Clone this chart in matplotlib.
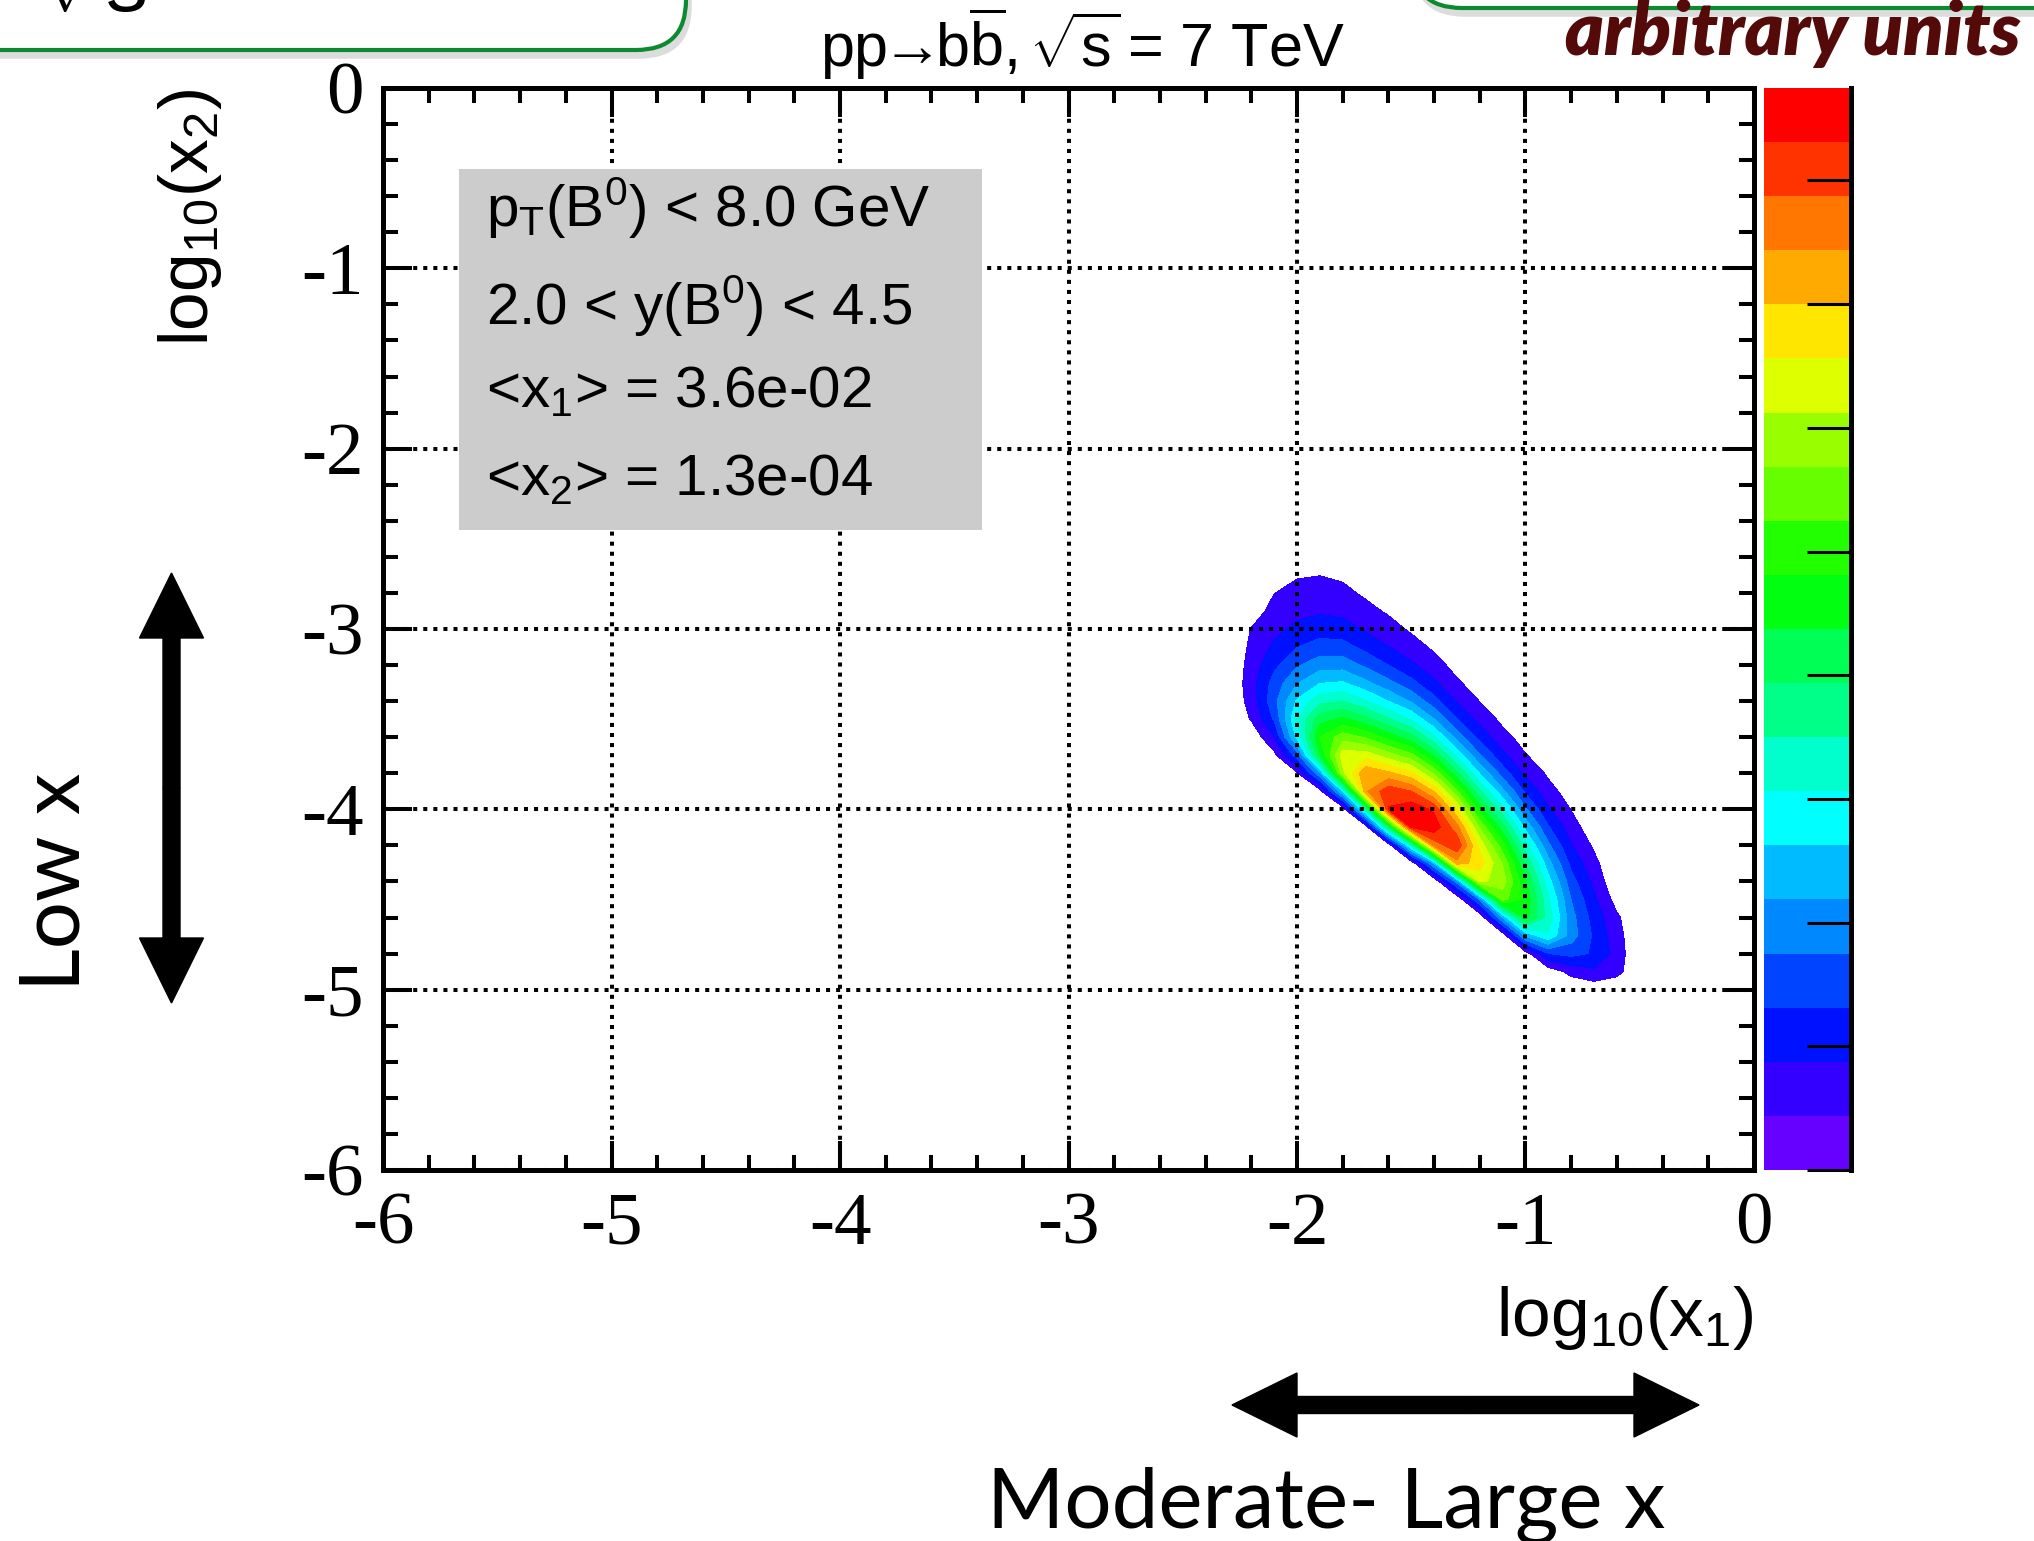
import numpy as np
import matplotlib
matplotlib.use('Agg')
import matplotlib.pyplot as plt
from matplotlib.colors import ListedColormap, BoundaryNorm
from matplotlib.cm import ScalarMappable
from matplotlib.patches import FancyBboxPatch, FancyArrow, Rectangle
from matplotlib.ticker import MultipleLocator

plt.rcParams['font.family'] = ['Liberation Sans', 'DejaVu Sans']
plt.rcParams['mathtext.fontset'] = 'custom'
plt.rcParams['mathtext.rm'] = 'Liberation Sans'
plt.rcParams['mathtext.it'] = 'Liberation Sans:italic'
plt.rcParams['mathtext.bf'] = 'Liberation Sans:bold'
plt.rcParams['axes.unicode_minus'] = False

# bin centres, log10(x1) columns and log10(x2) rows
log_x1 = [-2.3, -2.2, -2.1, -2.0, -1.9, -1.8, -1.7, -1.6, -1.5, -1.4,
          -1.3, -1.2, -1.1, -1.0, -0.9, -0.8, -0.7, -0.6, -0.5]
log_x2 = [-2.6, -2.7, -2.8, -2.9, -3.0, -3.1, -3.2, -3.3, -3.4, -3.5, -3.6, -3.7, -3.8,
          -3.9, -4.0, -4.1, -4.2, -4.3, -4.4, -4.5, -4.6, -4.7, -4.8, -4.9, -5.0, -5.1]

# density (arbitrary units, one list per log10(x1) column, rows as log_x2)
col_m23 = [0] * 26
col_m22 = [0, 0.1, 0.2, 0.5, 1.04, 1.23, 1.44, 1.6, 1.44, 1.08, 0.2] + [0] * 15
col_m21 = [0.41, 0.65, 0.98, 1.32, 1.71, 2.2, 2.76, 3.38, 3.67, 3.13, 1.96, 0.72, 0.09] + [0] * 13
col_m20 = [0.67, 0.92, 1.26, 1.70, 2.26, 2.98, 3.87, 4.94, 6.14, 7.0, 6.25, 3.49, 0.82, 0.05] + [0] * 12
col_m19 = [0.70, 0.98, 1.36, 1.87, 2.54, 3.42, 4.56, 5.97, 7.68, 9.60, 11.0, 9.95, 4.75, 0.49] + [0] * 12
col_m18 = [0.58, 0.85, 1.22, 1.74, 2.43, 3.37, 4.58, 6.12, 8.01, 10.22, 12.58, 14.5, 13.72, 6.0, 0.17] + [0] * 11
col_m17 = [0.35, 0.56, 0.85, 1.27, 1.86, 2.69, 3.80, 5.25, 7.10, 9.33, 11.90, 14.57, 16.84, 16.8, 7.68, 0.10] + [0] * 10
col_m16 = [0.1, 0.3, 0.56, 0.88, 1.35, 2.03, 2.99, 4.29, 5.99, 8.12, 10.64, 13.45, 16.24, 18.7, 19.05, 8.80, 0.09] + [0] * 9
col_m15 = [0, 0.1, 0.25, 0.52, 0.86, 1.40, 2.19, 3.32, 4.88, 6.91, 9.41, 12.28, 15.30, 18.01, 19.7, 19.1, 7.29, 0.09] + [0] * 8
col_m14 = [0, 0, 0.1, 0.25, 0.49, 0.84, 1.38, 2.20, 3.38, 5.02, 7.16, 9.81, 12.82, 15.91, 18.8, 19.6, 17.4, 5.08, 0.05] + [0] * 7
col_m13 = [0, 0, 0, 0.05, 0.15, 0.36, 0.66, 1.14, 1.90, 3.02, 4.61, 6.71, 9.28, 12.16, 15.04, 17.39, 18.8, 16.52, 4.42, 0.02] + [0] * 6
col_m12 = [0, 0, 0, 0, 0.04, 0.12, 0.29, 0.54, 0.97, 1.64, 2.65, 4.07, 5.92, 8.14, 10.56, 12.88, 14.70, 15.5, 14.27, 4.13, 0.02] + [0] * 5
col_m11 = [0] * 6 + [0.06, 0.18, 0.39, 0.75, 1.34, 2.25, 3.55, 5.25, 7.27, 9.43, 11.43, 12.91, 13.5, 12.36, 5.05, 0.23] + [0] * 4
col_m10 = [0] * 7 + [0.05, 0.15, 0.30, 0.59, 1.05, 1.78, 2.81, 4.14, 5.71, 7.39, 8.94, 10.14, 10.75, 10.39, 5.19, 0.46] + [0] * 3
col_m09 = [0] * 9 + [0.1, 0.26, 0.46, 0.83, 1.37, 2.13, 3.09, 4.20, 5.36, 6.41, 7.19, 7.58, 6.87, 2.99, 0.38] + [0] * 2
col_m08 = [0] * 11 + [0.1, 0.25, 0.51, 0.96, 1.46, 2.06, 2.73, 3.39, 3.97, 4.36, 4.5, 3.31, 1.31, 0.19] + [0]
col_m07 = [0] * 13 + [0.05, 0.15, 0.37, 0.83, 1.30, 1.75, 2.19, 2.57, 2.82, 2.89, 1.81, 0.29] + [0]
col_m06 = [0] * 18 + [0.11, 0.58, 1.18, 1.43, 1.58, 1.38, 0.03] + [0]
col_m05 = [0] * 26

columns = [col_m23, col_m22, col_m21, col_m20, col_m19, col_m18, col_m17, col_m16, col_m15, col_m14,
           col_m13, col_m12, col_m11, col_m10, col_m09, col_m08, col_m07, col_m06, col_m05]
z = np.array(columns).T

# ROOT-like 20 colour palette, bottom to top
palette = ['#6600ff', '#3300ff', '#0011ff', '#0044ff', '#0088ff', '#00bbff', '#00ffff',
           '#00ffcc', '#00ff88', '#00ff55', '#00ff11', '#22ff00', '#66ff00', '#99ff00',
           '#ddff00', '#ffe600', '#ffaa00', '#ff7700', '#ff3300', '#ff0000']
levels = np.arange(0, 21)
cbar_ticks = [0, 2.29, 4.57, 6.86, 9.15, 11.43, 13.72, 16.01, 18.3]

ticks = [-6, -5, -4, -3, -2, -1, 0]
tick_labels = ['-6', '-5', '-4', '-3', '-2', '-1', '0']

box_lines = [r'p$_{\mathrm{T}}$(B$^{0}$) < 8.0 GeV',
             r'2.0 < y(B$^{0}$) < 4.5',
             r'<x$_{1}$> = 3.6e-02',
             r'<x$_{2}$> = 1.3e-04']
box_y = [0.8715, 0.781, 0.7052, 0.6238]

fig = plt.figure(figsize=(20.34, 15.41), dpi=100)

# background layer in pixel units for the slide decorations
bg = fig.add_axes([0, 0, 1, 1])
bg.set_xlim(0, 2034)
bg.set_ylim(1541, 0)
bg.axis('off')
for x0, y0, w, h in [(-100, -200, 786, 250), (1412, -300, 900, 308)]:
    bg.add_patch(FancyBboxPatch((x0 + 3, y0 + 6), w, h, boxstyle='round,pad=0,rounding_size=50',
                                fc='#dcdcdc', ec='#dcdcdc', lw=4))
    bg.add_patch(FancyBboxPatch((x0, y0), w, h, boxstyle='round,pad=0,rounding_size=50',
                                fc='white', ec='#0b8a2f', lw=3))
bg.text(38, 12, r'$\sqrt{s}$', fontsize=60, ha='left', va='baseline')

# arrows and range labels
for d in (-215, 215):
    bg.add_patch(FancyArrow(171.5, 788, 0, d, width=17, head_width=64, head_length=65,
                            length_includes_head=True, color='black'))
for d in (-233.5, 233.5):
    bg.add_patch(FancyArrow(1465.5, 1405, d, 0, width=17, head_width=64, head_length=65,
                            length_includes_head=True, color='black'))
bg.text(80, 881.5, 'Low x', rotation=90, rotation_mode='anchor', ha='center', va='baseline',
        fontsize=60, family='Lato')
bg.text(1326, 1527, 'Moderate- Large x', ha='center', va='baseline', fontsize=60, family='Lato')

# main plot
ax = fig.add_axes([0.18830, 0.24076, 0.67404, 0.70214])
ax.contourf(log_x1, log_x2, z, levels=levels[1:], colors=palette[1:], zorder=1)
ax.set_xlim(-6, 0)
ax.set_ylim(-6, 0)
ax.set_xticks(ticks, labels=tick_labels, fontfamily='Liberation Serif', fontsize=54)
ax.set_yticks(ticks, labels=tick_labels, fontfamily='Liberation Serif', fontsize=54)
ax.xaxis.set_minor_locator(MultipleLocator(0.2))
ax.yaxis.set_minor_locator(MultipleLocator(0.2))
ax.tick_params(which='both', direction='in', top=True, right=True, width=2.9)
ax.tick_params(which='major', length=21)
ax.tick_params(which='minor', length=11)
ax.tick_params(axis='x', pad=16)
ax.tick_params(axis='y', pad=14)
for s in ax.spines.values():
    s.set_linewidth(3.6)
ax.set_axisbelow(False)
ax.grid(True, which='major', color='black', linestyle=(0, (1, 1.5)), linewidth=2.9)

ax.add_patch(Rectangle((0.0554, 0.5915), 0.3815, 0.3336, transform=ax.transAxes,
                       fc='#cccccc', ec='none', zorder=3))
for line, y in zip(box_lines, box_y):
    ax.text(0.0751, y, line, transform=ax.transAxes, fontsize=42, ha='left', va='baseline', zorder=4)

ax.text(1.0, -0.1534, r'log$_{10}$(x$_{1}$)', transform=ax.transAxes, ha='right', va='baseline',
        fontsize=50)
ax.text(-0.1276, 1.0, r'log$_{10}$(x$_{2}$)', transform=ax.transAxes, rotation=90,
        rotation_mode='anchor', ha='right', va='baseline', fontsize=50)

fig.text(0.532, 0.9565,
         r'$\mathrm{pp}\!\!\rightarrow\!\!\mathrm{b}\overline{\mathrm{b}}$, $\!\sqrt{\mathrm{s}}\!$ = 7 TeV',
         ha='center', va='baseline', fontsize=44)
fig.text(0.9936, 0.9643, 'arbitrary units', ha='right', va='baseline', fontsize=53,
         fontweight='heavy', fontstyle='italic', color='#550a0a', family='Lato')

# colour scale
cax = fig.add_axes([0.86726, 0.24076, 0.04277, 0.70214])
cb = fig.colorbar(ScalarMappable(norm=BoundaryNorm(levels, 20), cmap=ListedColormap(palette)),
                  cax=cax, ticks=cbar_ticks)
cb.outline.set_visible(False)
cax.minorticks_off()
cax.tick_params(axis='y', which='both', direction='in', length=32, width=2.2,
                right=True, left=False, labelright=False)
cax.plot([1, 1], [0, 1], transform=cax.transAxes, color='black', lw=3.6, clip_on=False)

fig.savefig('out.png', dpi=100)
